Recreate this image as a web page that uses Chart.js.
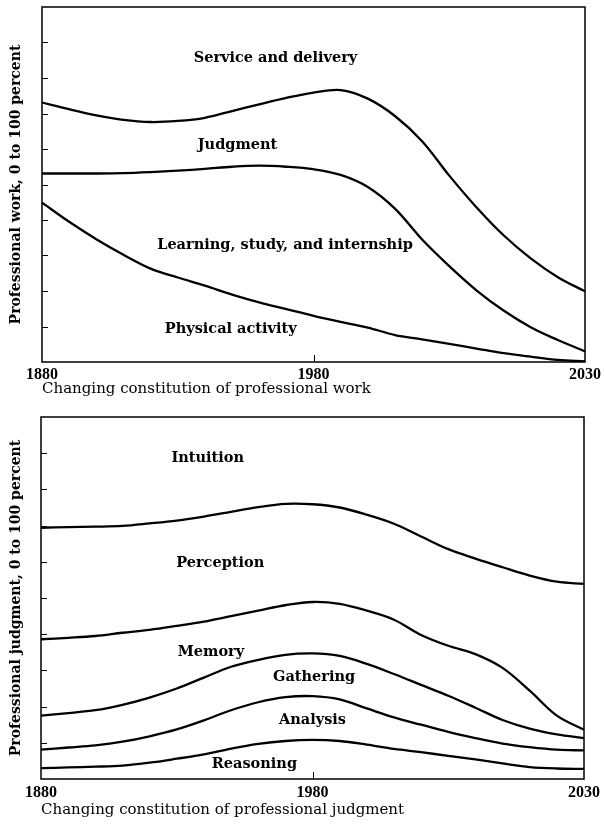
<!DOCTYPE html>
<html>
<head>
<meta charset="utf-8">
<script src="https://cdn.jsdelivr.net/npm/chart.js@4.4.1/dist/chart.umd.min.js"></script>
<style>
  html, body { margin: 0; padding: 0; background: #fff; }
  .box { position: absolute; left: 0; width: 604px; }
  #box1 { top: 0; height: 400px; }
  #box2 { top: 400px; height: 425px; }
</style>
</head>
<body>
<div class="box" id="box1"><canvas id="work"></canvas></div>
<div class="box" id="box2"><canvas id="judgment"></canvas></div>
<script>
// sample years: every 10 years up to 1980, then every 5 (the axis squeezes 1880-1980 into half the width)
var years = [1880, 1890, 1900, 1910, 1920, 1930, 1940, 1950, 1960, 1970, 1980,
             1985, 1990, 1995, 2000, 2005, 2010, 2015, 2020, 2025, 2030];
var tickYears = [1880, 1980, 2030];

// professional work: band boundaries, percent from the bottom
var workService  = [73.1, 71.2, 69.5, 68.2, 67.6, 67.9, 68.8, 70.7, 72.6, 74.4, 75.9,
                    76.6, 74.2, 69.3, 62.2, 52.5, 43.6, 35.7, 29.2, 23.9, 19.9];
var workJudgment = [53.1, 53.1, 53.1, 53.2, 53.5, 53.9, 54.4, 55.0, 55.3, 55.0, 54.3,
                    52.7, 49.3, 43.2, 34.5, 27.0, 20.2, 14.5, 9.8, 6.2, 3.0];
var workLearning = [44.9, 39.5, 34.6, 30.2, 26.3, 23.8, 21.5, 19.0, 16.8, 14.9, 13.0,
                    11.3, 9.7, 7.6, 6.4, 5.1, 3.8, 2.5, 1.5, 0.6, 0.2];
var workNames = ["Service and delivery", "Judgment", "Learning, study, and internship", "Physical activity"];
var workNameYear = [1966, 1952, 1969.5, 1949.5];
var workNameValue = [85.5, 61.1, 32.9, 9.2];

// professional judgment: band boundaries
var judgIntuition  = [69.4, 69.6, 69.7, 69.9, 70.6, 71.4, 72.5, 73.8, 75.1, 76.0, 75.9,
                      75.0, 73.0, 70.5, 67.0, 63.5, 60.9, 58.5, 56.2, 54.5, 53.9];
var judgPerception = [38.6, 39.0, 39.5, 40.4, 41.2, 42.3, 43.5, 45.0, 46.5, 48.0, 48.9,
                      48.4, 46.5, 44.0, 39.8, 36.8, 34.5, 30.7, 24.4, 17.5, 13.6];
var judgMemory     = [17.5, 18.2, 19.0, 20.5, 22.5, 25.0, 28.0, 31.0, 32.9, 34.3, 34.7,
                      34.0, 31.8, 29.0, 26.0, 23.0, 19.7, 16.3, 13.9, 12.3, 11.3];
var judgGathering  = [8.1, 8.7, 9.3, 10.3, 11.8, 13.7, 16.2, 19.0, 21.2, 22.6, 22.9,
                      22.0, 19.5, 17.0, 15.0, 13.0, 11.3, 9.8, 8.8, 8.1, 7.9];
var judgAnalysis   = [3.0, 3.2, 3.4, 3.7, 4.5, 5.6, 6.8, 8.4, 9.7, 10.5, 10.8,
                      10.5, 9.5, 8.3, 7.4, 6.4, 5.4, 4.3, 3.3, 2.9, 2.8];
var judgNames = ["Intuition", "Perception", "Memory", "Gathering", "Analysis", "Reasoning"];
var judgNameYear = [1941.4, 1946, 1942.6, 1980.3, 1980, 1958.6];
var judgNameValue = [88.7, 59.6, 34.9, 28.1, 16.2, 4.0];

Chart.defaults.font.family = "'DejaVu Serif', 'Liberation Serif', serif";
Chart.defaults.color = "#000";

// fractional category index for a year, matching the uneven spacing of `years`
function yearIndex(yr) {
  return yr <= 1980 ? (yr - 1880) / 10 : 10 + (yr - 1980) / 5;
}

var framePlugin = {
  id: "frame",
  afterDatasetsDraw: function (chart, args, opts) {
    var ctx = chart.ctx, a = chart.chartArea;
    var xs = chart.scales.x, ys = chart.scales.y;
    ctx.save();
    ctx.strokeStyle = "#000";
    ctx.lineWidth = 1.5;
    ctx.strokeRect(a.left, a.top, a.right - a.left, a.bottom - a.top);
    // short inward ticks
    ctx.lineWidth = 1;
    ctx.beginPath();
    for (var v = 10; v < 100; v += 10) {
      var py = Math.round(ys.getPixelForValue(v)) + 0.5;
      ctx.moveTo(a.left, py);
      ctx.lineTo(a.left + 6, py);
    }
    var px = Math.round(xs.getPixelForValue(yearIndex(1980))) + 0.5;
    ctx.moveTo(px, a.bottom);
    ctx.lineTo(px, a.bottom - 7);
    ctx.stroke();
    // band names
    ctx.fillStyle = "#000";
    ctx.font = "bold 14.5px 'DejaVu Serif', serif";
    ctx.textAlign = "center";
    ctx.textBaseline = "middle";
    for (var i = 0; i < opts.names.length; i++) {
      ctx.fillText(opts.names[i],
        xs.getPixelForValue(yearIndex(opts.years[i])),
        ys.getPixelForValue(opts.values[i]));
    }
    ctx.restore();
  }
};

function lineSet(data) {
  return {
    data: data,
    borderColor: "#000",
    borderWidth: 2.3,
    pointRadius: 0,
    tension: 0.35,
    fill: false
  };
}

function makeChart(id, series, yTitle, xTitle, names, nameYears, nameValues, dims) {
  return new Chart(document.getElementById(id).getContext("2d"), {
    type: "line",
    data: {
      labels: years,
      datasets: series.map(lineSet)
    },
    options: {
      responsive: true,
      maintainAspectRatio: false,
      animation: false,
      layout: { padding: { top: dims.top, left: 0, right: 0, bottom: 0 } },
      plugins: {
        legend: { display: false },
        tooltip: { enabled: false },
        frame: { names: names, years: nameYears, values: nameValues }
      },
      scales: {
        x: {
          type: "category",
          offset: false,
          grid: { display: false, drawTicks: false },
          border: { display: false },
          ticks: {
            autoSkip: false,
            maxRotation: 0,
            padding: dims.tickPad,
            font: { size: 16, weight: "bold", family: "'Liberation Serif', serif" },
            callback: function (v, i) {
              return tickYears.indexOf(years[i]) >= 0 ? String(years[i]) : null;
            }
          },
          title: {
            display: true,
            align: "start",
            text: xTitle,
            font: { size: 15 },
            padding: { top: 0, bottom: dims.titlePad }
          },
          afterFit: function (s) { s.height = dims.xh; }
        },
        y: {
          min: 0,
          max: 100,
          grid: { display: false, drawTicks: false },
          border: { display: false },
          ticks: { display: false },
          title: {
            display: true,
            text: yTitle,
            font: { size: 14, weight: "bold" },
            padding: { top: 8, bottom: 0 }
          },
          afterFit: function (s) { s.width = dims.yw; }
        }
      }
    },
    plugins: [framePlugin]
  });
}

makeChart("work", [workService, workJudgment, workLearning],
  "Professional work, 0 to 100 percent",
  "Changing constitution of professional work",
  workNames, workNameYear, workNameValue,
  { top: 7, xh: 38, yw: 42, tickPad: 3, titlePad: 2 });

makeChart("judgment", [judgIntuition, judgPerception, judgMemory, judgGathering, judgAnalysis],
  "Professional judgment, 0 to 100 percent",
  "Changing constitution of professional judgment",
  judgNames, judgNameYear, judgNameValue,
  { top: 17, xh: 46, yw: 41, tickPad: 4, titlePad: 6 });
</script>
</body>
</html>
